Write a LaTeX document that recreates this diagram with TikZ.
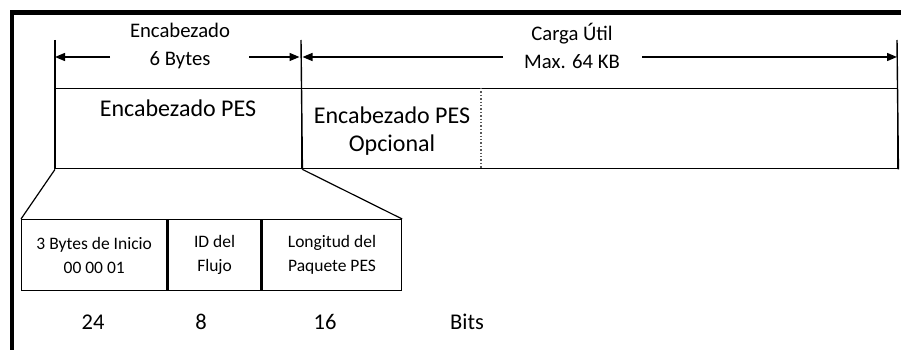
\documentclass[tikz,border=0pt]{standalone}
\usepackage{fontspec}
\setmainfont{Carlito}
\usetikzlibrary{arrows.meta}

\begin{document}
\begin{tikzpicture}[x=1pt,y=-1pt,
    dimarrow/.style={line width=1.4pt,-{Triangle[length=10pt,width=8pt]}},
    cell/.style={draw,line width=1.4pt,inner sep=0pt,anchor=north west},
    celltxt/.style={align=center,font=\fontsize{17.5}{24}\selectfont},
    toptxt/.style={align=center,font=\fontsize{20.7}{28}\selectfont},
    boxtxt/.style={align=center,font=\fontsize{24}{28}\selectfont},
    bitstxt/.style={font=\fontsize{22.5}{24}\selectfont}]
  \useasboundingbox (0,0) rectangle (901,350);
  % frame
  \draw [line width=4.5pt] (12,350) -- (12,12.5) -- (901,12.5);
  % header row
  \node [cell, minimum width=246pt, minimum height=80pt] (pes) at (55,88) {};
  \node [cell, minimum width=596pt, minimum height=80pt] (pay) at (301,88) {};
  \draw [line width=1.4pt, dotted, gray!70!black] (481,88) -- (481,168);
  \node [boxtxt] (pestxt) at (178,108) {Encabezado PES};
  \node [boxtxt] (opttxt) at (392,131) {Encabezado PES\\Opcional};
  % dimension lines
  \coordinate (tkA) at (55,40);
  \coordinate (tkB) at (301,40);
  \coordinate (tkC) at (897,40);
  \draw [line width=1.4pt] (tkA) -- (pes.south west);
  \draw [line width=1.4pt] (tkB) -- (pes.south east);
  \draw [line width=1.4pt] (tkC) -- (pay.south east);
  \node [toptxt] (hdrtxt) at (180,46) {Encabezado\\6 Bytes};
  \node [toptxt] (paytxt) at (572,46) {Carga Útil\\Max. 64 KB};
  \coordinate (hdrL) at (110,57);
  \coordinate (hdrR) at (249,57);
  \coordinate (payL) at (503,57);
  \coordinate (payR) at (642,57);
  \draw [dimarrow] (hdrL) -- (tkA |- hdrL);
  \draw [dimarrow] (hdrR) -- ([xshift=-1.5pt]tkB |- hdrR);
  \draw [dimarrow] (payL) -- ([xshift=1.5pt]tkB |- payL);
  \draw [dimarrow] (payR) -- (tkC |- payR);
  % expanded header fields
  \node [cell, minimum width=145pt, minimum height=71pt] (ini) at (21,219) {};
  \node [cell, minimum width=93pt, minimum height=71pt, anchor=north west] (flu) at (ini.north east) {};
  \node [cell, minimum width=139pt, minimum height=71pt, anchor=north west] (lon) at (flu.north east) {};
  \node [celltxt] (initxt) at (ini.center) {3 Bytes de Inicio\\00 00 01};
  \node [celltxt] (flutxt) at (flu.center) {ID del\\Flujo};
  \node [celltxt] (lontxt) at (lon.center) {Longitud del\\Paquete PES};
  \draw [line width=1.2pt] (pes.south west) -- (ini.north west);
  \draw [line width=1.2pt] (pes.south east) -- (lon.north east);
  % bit counts
  \node [bitstxt] (b24) at (93,322) {24};
  \node [bitstxt] (b8) at (201,322) {8};
  \node [bitstxt] (b16) at (325,322) {16};
  \node [bitstxt] (bits) at (467,322) {Bits};
\end{tikzpicture}
\end{document}
